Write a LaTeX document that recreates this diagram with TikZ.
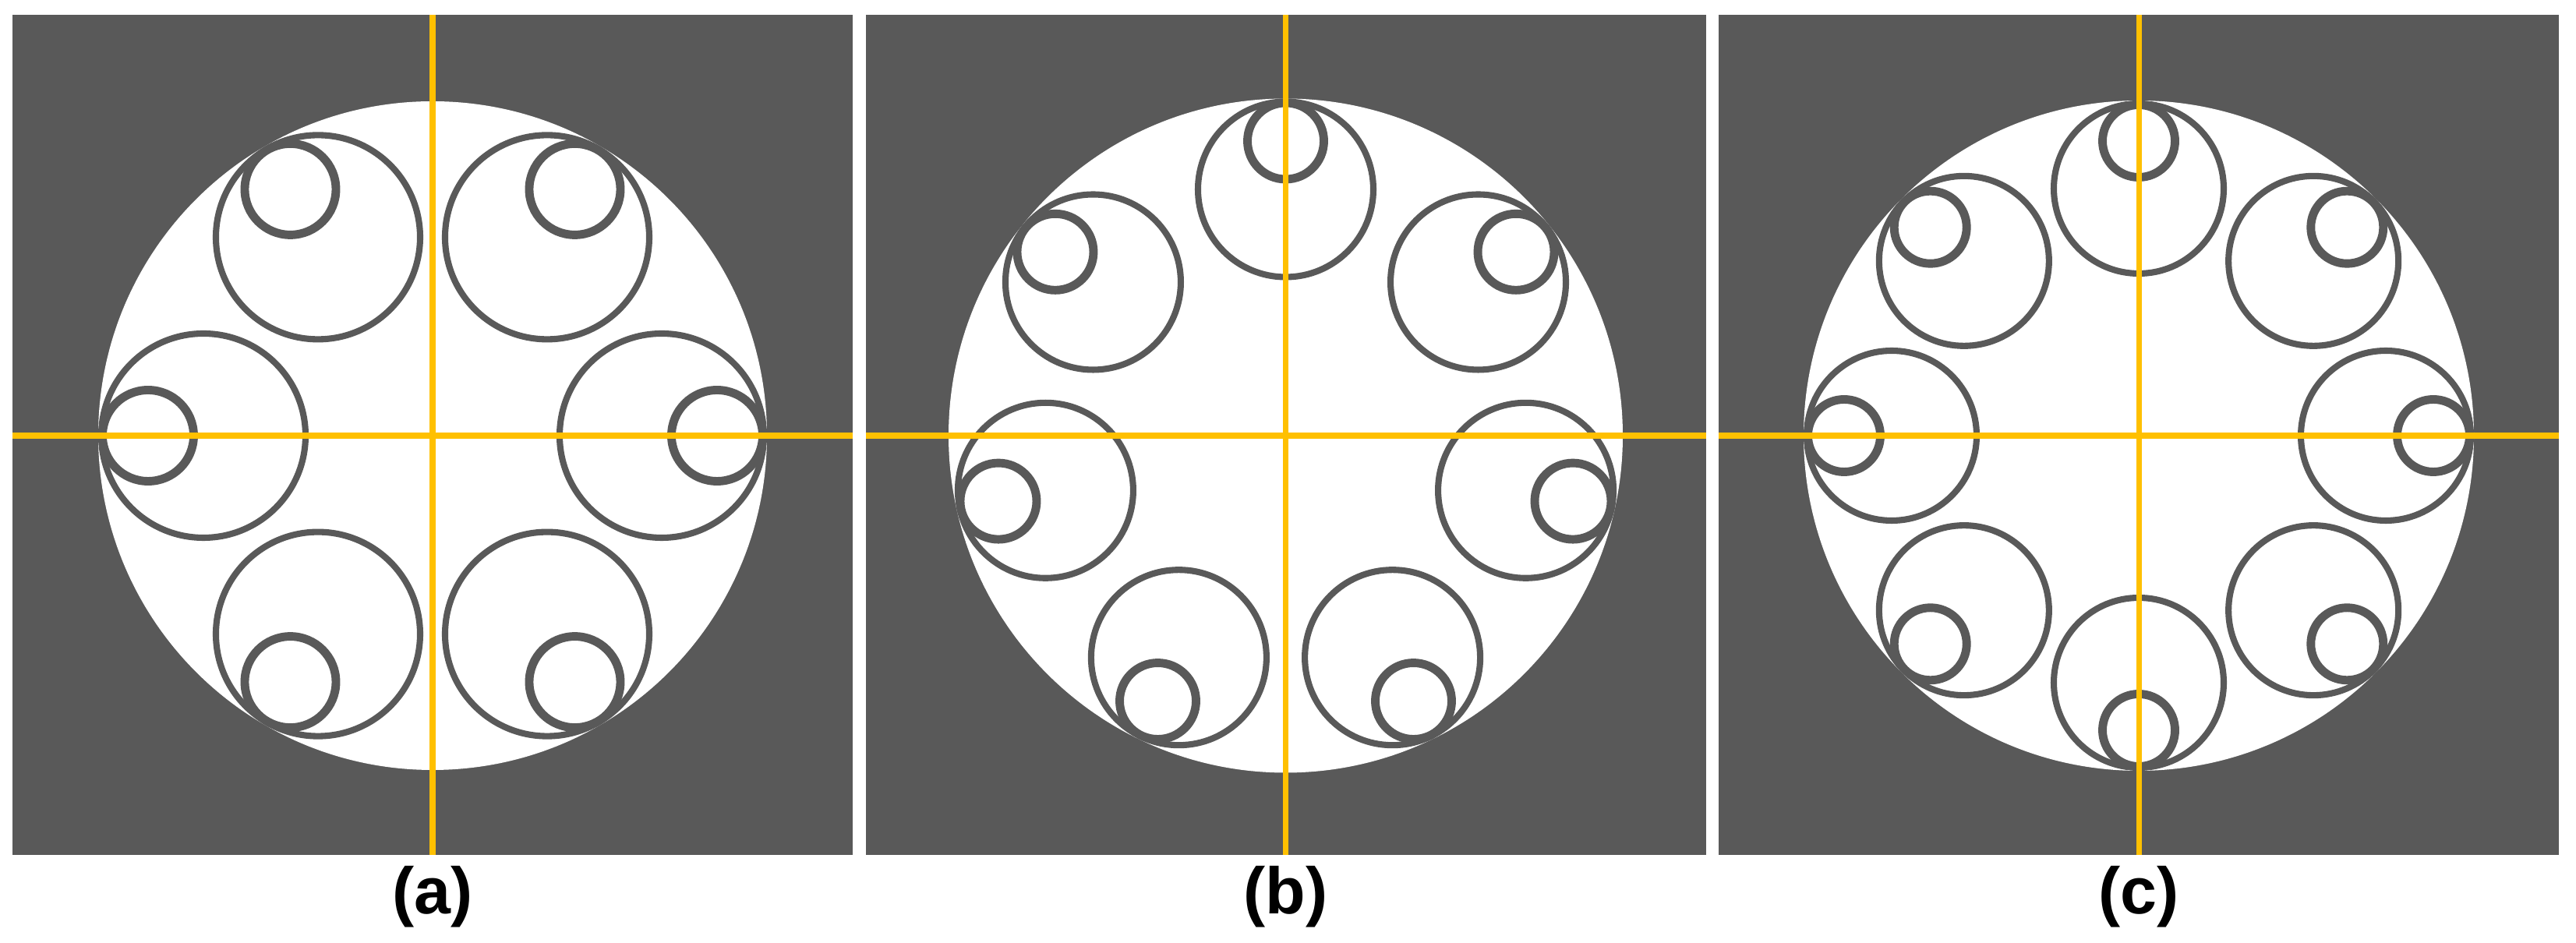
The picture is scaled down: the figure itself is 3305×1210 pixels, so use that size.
\documentclass[tikz,border=0pt]{standalone}
\usepackage{fontspec}
\setmainfont{Liberation Sans}
\definecolor{panelgray}{HTML}{595959}
\definecolor{crossgold}{HTML}{FFC000}

\begin{document}
\begin{tikzpicture}[x=0.01cm,y=0.01cm]
    \tikzset{
        ring big/.style={draw=panelgray,line width=2.3pt},
        ring small/.style={draw=panelgray,line width=3.1pt},
        cross line/.style={draw=crossgold,line width=2pt},
        panel caption/.style={font=\bfseries\fontsize{24}{28}\selectfont,inner sep=0pt}
    }
    \useasboundingbox (-555,-651) rectangle (2750,559);
    \foreach \cx/\n/\start/\R/\rb/\rs/\name in {0/6/0/429/135/64/a, 1094.5/7/90/432.5/116.5/54.5/b, 2189/8/0/430/113/52/c} {
        \begin{scope}[shift={(\cx,0)}]
            \fill[panelgray] (-539,-538) rectangle (539,540);
            \fill[white] (0,0) circle[radius=\R];
            \foreach \k in {1,...,\n} {
                \pgfmathsetmacro\ang{\start+360*(\k-1)/\n}
                \pgfmathsetmacro\db{\R-\rb}
                \pgfmathsetmacro\ds{\R-\rs}
                \pgfmathsetmacro\cb{\rb-4}
                \pgfmathsetmacro\cs{\rs-5.5}
                \draw[ring big] (\ang:\db) circle[radius=\cb];
                \draw[ring small] (\ang:\ds) circle[radius=\cs];
            }
            \draw[cross line] (-539,0) -- (539,0);
            \draw[cross line] (0,-538) -- (0,540);
            \node[panel caption] (cap_\name) at (0,-592) {(\name)};
        \end{scope}
    }
\end{tikzpicture}
\end{document}
